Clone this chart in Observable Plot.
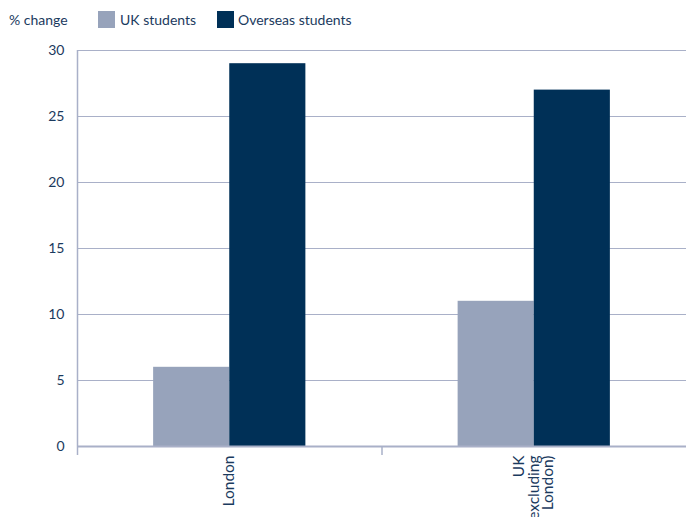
<!DOCTYPE html>
<html>
<head>
<meta charset="utf-8">
<script src="https://cdn.jsdelivr.net/npm/d3@7"></script>
<script src="https://cdn.jsdelivr.net/npm/@observablehq/plot@0.6"></script>
<style>
  html, body { margin: 0; padding: 0; background: #fff; }
  body { width: 686px; height: 517px; overflow: hidden; font-family: Lato, sans-serif; color: #1b3a5e; }
  #legend { position: relative; height: 38px; font-size: 14px; }
  #legend span { position: absolute; top: 11px; line-height: 17px; white-space: nowrap; }
  #legend .sw { width: 17px; height: 17px; display: inline-block; }
</style>
</head>
<body>
<div id="legend"></div>
<div id="chart"></div>
<script>
const categories = ["London", "UK\n(excluding\nLondon)"];
const series = ["UK students", "Overseas students"];
const ukStudents = [6, 11];
const overseasStudents = [29, 27];
const yTicks = [0, 5, 10, 15, 20, 25, 30];
const colors = ["#97a3bb", "#003057"];
const yLabel = "% change";

const values = [ukStudents, overseasStudents];
const rows = [];
categories.forEach((c, gi) => {
  series.forEach((s, si) => {
    rows.push({category: c, series: s, gi, si, value: values[si][gi]});
  });
});

// legend
const legend = document.getElementById("legend");
legend.innerHTML =
  `<span style="left:9px">${yLabel}</span>` +
  `<span style="left:98px"><i class="sw" style="background:${colors[0]}"></i></span>` +
  `<span style="left:120px">${series[0]}</span>` +
  `<span style="left:217px"><i class="sw" style="background:${colors[1]}"></i></span>` +
  `<span style="left:238px">${series[1]}</span>`;

const gridColor = "#a9b0c8";
const textColor = "#1b3a5e";

const chart = Plot.plot({
  width: 686,
  height: 479,
  marginTop: 12,
  marginBottom: 71,
  marginLeft: 77,
  marginRight: 0,
  style: {fontFamily: "Lato, sans-serif", fontSize: "14px", color: textColor, background: "#fff"},
  x: {type: "linear", domain: [0, categories.length], axis: null},
  y: {domain: [0, 30], axis: null, label: null},
  color: {domain: series, range: colors},
  marks: [
    Plot.gridY(yTicks.filter(d => d > 0), {stroke: gridColor, strokeOpacity: 1, strokeWidth: 1.2}),
    Plot.rectY(rows, {
      x1: d => d.gi + 0.25 + d.si * 0.25,
      x2: d => d.gi + 0.5 + d.si * 0.25,
      y1: 0,
      y2: "value",
      fill: "series"
    }),
    Plot.ruleY([0], {stroke: gridColor, strokeWidth: 2}),
    Plot.ruleX([0], {y1: 0, y2: 30, stroke: gridColor, strokeWidth: 1.5}),
    Plot.axisY({ticks: yTicks, tickSize: 0, tickPadding: 13, fill: textColor, fontSize: 14, label: null}),
    Plot.axisX({ticks: d3.range(categories.length), tickSize: 9, tickFormat: () => "", stroke: gridColor, strokeWidth: 1.5, label: null}),
    Plot.axisX({
      ticks: categories.map((c, i) => i + 0.5),
      tickSize: 0,
      tickPadding: 9,
      tickRotate: -90,
      tickFormat: v => categories[Math.floor(v)],
      fill: textColor,
      fontSize: 15.5,
      lineHeight: 0.93,
      label: null
    })
  ]
});
document.getElementById("chart").appendChild(chart);
</script>
</body>
</html>
